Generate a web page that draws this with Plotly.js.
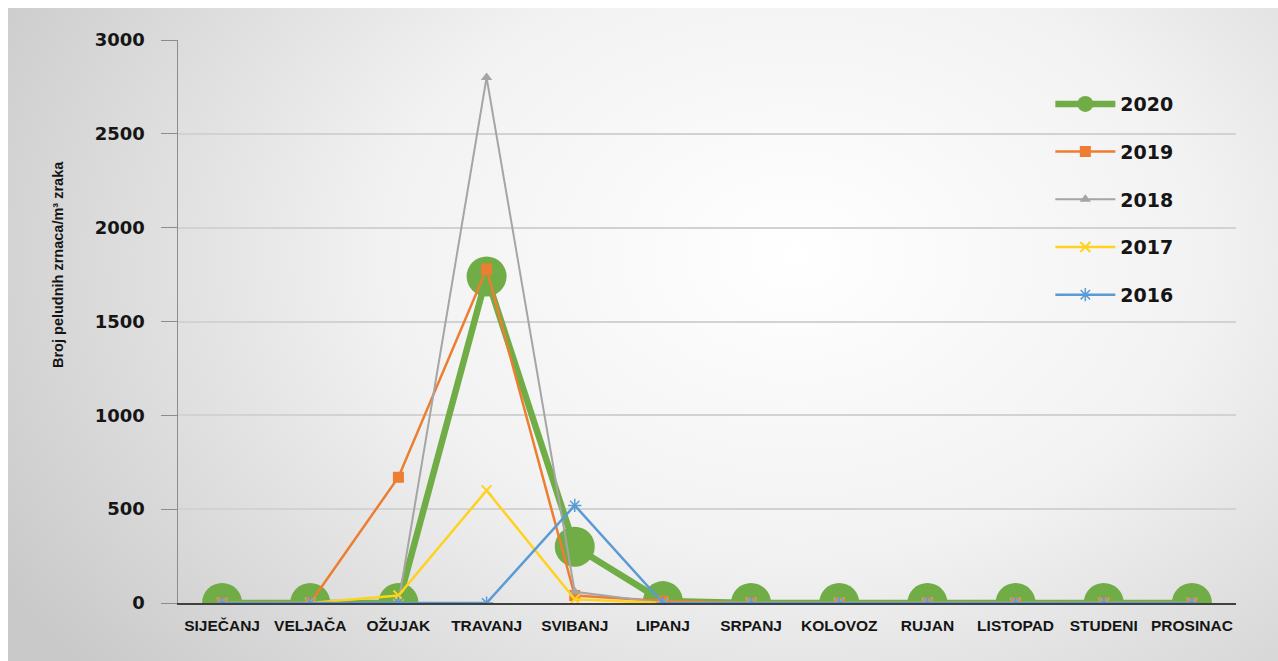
<!DOCTYPE html>
<html>
<head>
<meta charset="utf-8">
<script src="https://cdn.plot.ly/plotly-3.0.1.min.js"></script>
<style>html,body{margin:0;padding:0;background:#fff}#chart{width:1278px;height:661px}</style>
</head>
<body>
<div id="chart"></div>
<script>
const months = ["SIJEČANJ","VELJAČA","OŽUJAK","TRAVANJ","SVIBANJ","LIPANJ","SRPANJ","KOLOVOZ","RUJAN","LISTOPAD","STUDENI","PROSINAC"];
const y2020 = [0,0,0,1740,300,10,0,0,0,0,0,0];
const y2019 = [0,0,670,1780,40,10,0,0,0,0,0,0];
const y2018 = [0,0,0,2800,60,0,0,0,0,0,0,0];
const y2017 = [0,0,40,600,20,0,0,0,0,0,0,0];
const y2016 = [0,0,0,0,520,0,0,0,0,0,0,0];
const yTicks = [0,500,1000,1500,2000,2500,3000];
const yTitle = 'Broj peludnih zrnaca/m³ zraka';

const W = 1278, H = 661, L = 178, R = 42, T = 40, B = 58;
const pw = W - L - R, ph = H - T - B;

const bgSvg = '<svg xmlns="http://www.w3.org/2000/svg" width="1270" height="653" viewBox="0 0 1270 653">' +
 '<defs><radialGradient id="g" cx="0.62" cy="0.38" r="0.72" gradientTransform="translate(0.62 0.38) scale(1 1.4) translate(-0.62 -0.38)">' +
 '<stop offset="0" stop-color="#ffffff"/><stop offset="0.45" stop-color="#f2f2f2"/><stop offset="1" stop-color="#c9c9c9"/></radialGradient></defs>' +
 '<rect width="1270" height="653" fill="url(#g)"/></svg>';
const bgUri = 'data:image/svg+xml;charset=utf-8,' + encodeURIComponent(bgSvg);

function tr(name, y, color, lw, marker) {
  return {
    type: 'scatter', mode: 'lines+markers', name: name, x: months, y: y,
    legendgroup: name,
    line: {color: color, width: lw},
    marker: marker
  };
}

const data = [
  tr('2020', y2020, '#70ad47', 6.5, {symbol: 'circle', size: 40, color: '#70ad47'}),
  tr('2019', y2019, '#ed7d31', 2.5, {symbol: 'square', size: 11, color: '#ed7d31'}),
  tr('2018', y2018, '#a5a5a5', 2, {symbol: 'triangle-up', size: 10, color: '#a5a5a5'}),
  tr('2017', y2017, '#ffd21f', 2.5, {symbol: 'x-thin-open', size: 10, color: '#ffd21f', line: {color: '#ffd21f', width: 2}}),
  tr('2016', y2016, '#5b9bd5', 2.5, {symbol: 'asterisk-open', size: 11, color: '#5b9bd5', line: {color: '#5b9bd5', width: 1.5}})
];

const narrow = "'Liberation Sans', Arial, sans-serif";
const wide = "'DejaVu Sans', 'Liberation Sans', sans-serif";

const layout = {
  width: W, height: H,
  margin: {l: L, r: R, t: T, b: B},
  paper_bgcolor: '#ffffff',
  plot_bgcolor: 'rgba(0,0,0,0)',
  showlegend: true,
  images: [{
    source: bgUri, xref: 'paper', yref: 'paper',
    x: (8 - L) / pw, y: (H - B - 8) / ph,
    sizex: (W - 8) / pw, sizey: (H - 8) / ph,
    xanchor: 'left', yanchor: 'top', sizing: 'stretch', layer: 'below'
  }],
  xaxis: {
    type: 'category', categoryorder: 'array', categoryarray: months,
    range: [-0.5, 11.5],
    showgrid: false, zeroline: false,
    showline: true, linecolor: '#404040', linewidth: 1.5,
    ticks: 'outside', ticklen: 8, tickcolor: 'rgba(0,0,0,0)',
    tickfont: {family: narrow, size: 15.5, color: '#151515', weight: 'bold'},
    tickangle: 0
  },
  yaxis: {
    range: [0, 3000], tickvals: yTicks, ticktext: yTicks.map(String),
    showgrid: true, gridcolor: '#d2d2d2', gridwidth: 2,
    zeroline: false,
    showline: true, linecolor: '#8c8c8c', linewidth: 1.5,
    ticks: 'outside', ticklen: 16, tickcolor: '#8c8c8c', tickwidth: 1,
    ticklabelstandoff: 12,
    tickfont: {family: wide, size: 18, color: '#151515', weight: 'bold'}
  },
  annotations: [{
    text: yTitle, xref: 'paper', yref: 'paper',
    x: (58 - L) / pw, y: (H - B - 265) / ph,
    xanchor: 'center', yanchor: 'middle', textangle: -90, showarrow: false,
    font: {family: narrow, size: 14.5, color: '#151515', weight: 'bold'}
  }],
  legend: {
    x: 0.8245, y: 0.92, xanchor: 'left', yanchor: 'top',
    bgcolor: 'rgba(0,0,0,0)', borderwidth: 0,
    traceorder: 'grouped', tracegroupgap: 20,
    itemwidth: 60, itemsizing: 'trace',
    font: {family: wide, size: 19, color: '#151515', weight: 'bold'}
  }
};

Plotly.newPlot('chart', data, layout, {displayModeBar: false, staticPlot: true});
</script>
</body>
</html>
